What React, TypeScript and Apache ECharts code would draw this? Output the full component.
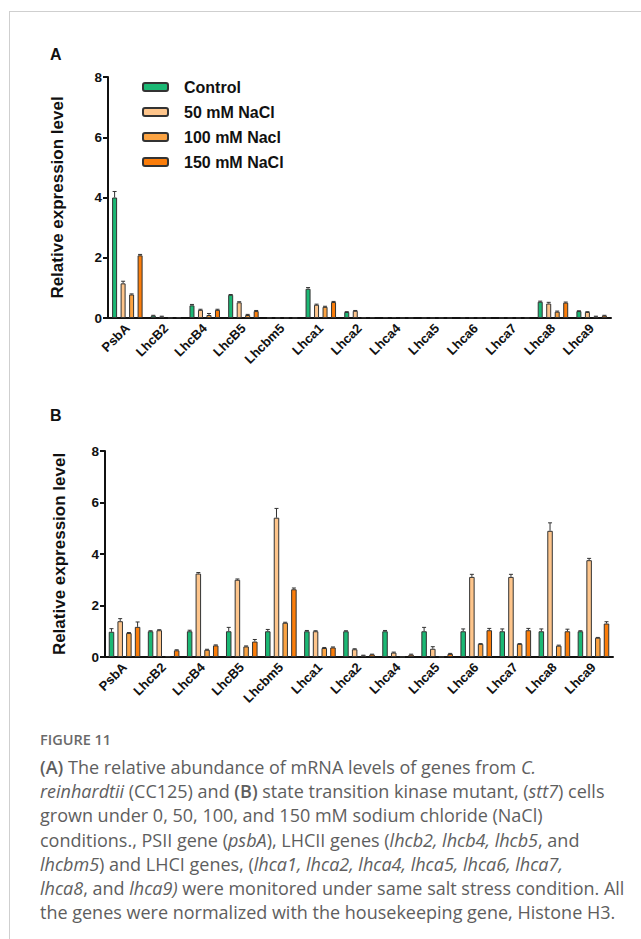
import React, { useEffect, useRef } from "react";
import * as echarts from "echarts";

const categories = ["PsbA", "LhcB2", "LhcB4", "LhcB5", "Lhcbm5", "Lhca1", "Lhca2", "Lhca4", "Lhca5", "Lhca6", "Lhca7", "Lhca8", "Lhca9"];
const seriesNames = ["Control", "50 mM NaCl", "100 mM Nacl", "150 mM NaCl"];
const yTicks = [0, 2, 4, 6, 8];

// Panel A (CC125)
const aControl = [4.0, 0.08, 0.42, 0.77, 0.01, 0.97, 0.2, 0.02, 0.005, 0.01, 0.005, 0.54, 0.23];
const a50 = [1.15, 0.05, 0.27, 0.52, 0.005, 0.44, 0.24, 0.03, 0.005, 0.01, 0.005, 0.48, 0.2];
const a100 = [0.78, 0.01, 0.1, 0.1, 0.005, 0.37, 0.02, 0.005, 0.005, 0.005, 0.005, 0.21, 0.05];
const a150 = [2.08, 0.02, 0.27, 0.23, 0.005, 0.53, 0.02, 0.005, 0.005, 0.005, 0.005, 0.51, 0.08];
const aControlErr = [0.2, 0.01, 0.03, 0.01, 0, 0.04, 0.01, 0, 0, 0, 0, 0.02, 0.01];
const a50Err = [0.07, 0.01, 0.02, 0.02, 0, 0.02, 0.01, 0, 0, 0, 0, 0.04, 0.01];
const a100Err = [0.02, 0, 0.05, 0.02, 0, 0.02, 0, 0, 0, 0, 0, 0.02, 0.01];
const a150Err = [0.03, 0, 0.02, 0.02, 0, 0.02, 0, 0, 0, 0, 0, 0.02, 0.01];

// Panel B (stt7)
const bControl = [0.98, 1.0, 1.0, 1.0, 1.0, 1.0, 1.0, 1.0, 1.0, 1.0, 1.0, 1.0, 1.0];
const b50 = [1.39, 1.04, 3.24, 3.0, 5.41, 1.0, 0.3, 0.17, 0.32, 3.11, 3.11, 4.9, 3.76];
const b100 = [0.93, 0.03, 0.28, 0.41, 1.33, 0.35, 0.06, 0.01, 0.01, 0.51, 0.51, 0.44, 0.75];
const b150 = [1.17, 0.26, 0.45, 0.6, 2.63, 0.37, 0.1, 0.09, 0.12, 1.04, 1.04, 1.0, 1.3];
const bControlErr = [0.12, 0.02, 0.04, 0.15, 0.07, 0.03, 0.02, 0.03, 0.15, 0.09, 0.09, 0.09, 0.02];
const b50Err = [0.1, 0.02, 0.04, 0.03, 0.36, 0.02, 0.02, 0.02, 0.08, 0.1, 0.1, 0.31, 0.07];
const b100Err = [0.02, 0, 0.02, 0.02, 0.02, 0.02, 0.01, 0, 0, 0.01, 0.01, 0.02, 0.01];
const b150Err = [0.19, 0.02, 0.02, 0.08, 0.05, 0.02, 0.01, 0.02, 0.02, 0.07, 0.07, 0.08, 0.07];

const colors = ["#1bb874", "#fec58b", "#fba342", "#fb7d0a"];
const FONT = "Arial, 'Liberation Sans', sans-serif";

export default function App() {
  const ref = useRef<HTMLDivElement>(null);

  useEffect(() => {
    document.body.style.margin = "0";
    if (!ref.current) return;
    const chart = echarts.init(ref.current, undefined, { renderer: "svg" });

    const panels = [
      { vals: [aControl, a50, a100, a150], errs: [aControlErr, a50Err, a100Err, a150Err], barWidth: 5, gap: 3.5, nameGap: 42 },
      { vals: [bControl, b50, b100, b150], errs: [bControlErr, b50Err, b100Err, b150Err], barWidth: 5.5, gap: 3.2, nameGap: 37 },
    ];

    const xAxis: any[] = [];
    const yAxis: any[] = [];
    const grid = [
      { left: 108, top: 77, width: 503, height: 241 },
      { left: 105, top: 451, width: 508, height: 206 },
    ];
    const series: any[] = [];

    panels.forEach((p, gi) => {
      xAxis.push({
        type: "category",
        gridIndex: gi,
        data: categories,
        axisLine: { lineStyle: { color: "#111", width: 2 } },
        axisTick: { alignWithLabel: true, length: 7, lineStyle: { color: "#111", width: 2 } },
        axisLabel: { rotate: 45, interval: 0, color: "#111", fontWeight: "bold", fontSize: 13, fontFamily: FONT, margin: 8 },
      });
      yAxis.push({
        type: "value",
        gridIndex: gi,
        min: yTicks[0],
        max: yTicks[yTicks.length - 1],
        interval: 2,
        name: "Relative expression level",
        nameLocation: "middle",
        nameGap: p.nameGap,
        nameTextStyle: { color: "#111", fontWeight: "bold", fontSize: 17, fontFamily: FONT },
        axisLine: { show: true, lineStyle: { color: "#111", width: 2 } },
        axisTick: { show: true, length: 5, lineStyle: { color: "#111", width: 2 } },
        axisLabel: { color: "#111", fontWeight: "bold", fontSize: 13.5, fontFamily: FONT, margin: 6 },
        splitLine: { show: false },
      });
      p.vals.forEach((v, k) => {
        series.push({
          type: "bar",
          name: seriesNames[k],
          xAxisIndex: gi,
          yAxisIndex: gi,
          data: v,
          barWidth: p.barWidth,
          barGap: `${(p.gap / p.barWidth) * 100}%`,
          itemStyle: { color: colors[k], borderColor: "#333", borderWidth: 1 },
          z: 2,
        });
      });
      p.vals.forEach((v, k) => {
        const step = p.barWidth + p.gap;
        const offset = (k - 1.5) * step;
        series.push({
          type: "custom",
          name: `err-${gi}-${k}`,
          xAxisIndex: gi,
          yAxisIndex: gi,
          z: 3,
          data: v.map((val, i) => [i, val, p.errs[k][i]]),
          encode: { x: 0, y: 1 },
          renderItem: (params: any, api: any) => {
            const e = api.value(2);
            if (!e || e <= 0) return { type: "group", children: [] };
            const base = api.coord([api.value(0), api.value(1)]);
            const top = api.coord([api.value(0), api.value(1) + e]);
            const x = base[0] + offset;
            const style = { stroke: "#333", lineWidth: 1 };
            return {
              type: "group",
              children: [
                { type: "line", shape: { x1: x, y1: base[1], x2: x, y2: top[1] }, style },
                { type: "line", shape: { x1: x - 2, y1: top[1], x2: x + 2, y2: top[1] }, style },
              ],
            };
          },
        });
      });
    });

    chart.setOption({
      animation: false,
      grid,
      xAxis,
      yAxis,
      series,
      legend: {
        data: seriesNames,
        orient: "vertical",
        left: 142,
        top: 78,
        padding: 0,
        itemWidth: 25,
        itemHeight: 8,
        itemGap: 7,
        textStyle: { color: "#111", fontWeight: "bold", fontSize: 16, lineHeight: 18, fontFamily: FONT, padding: [0, 0, 0, 11] },
      },
      graphic: [
        { type: "text", left: 50, top: 46, style: { text: "A", font: `bold 16px ${FONT}`, fill: "#111" } },
        { type: "text", left: 50, top: 407, style: { text: "B", font: `bold 16px ${FONT}`, fill: "#111" } },
      ],
    });

    return () => chart.dispose();
  }, []);

  const capStyle: React.CSSProperties = {
    position: "absolute",
    left: 40,
    top: 755,
    width: 600,
    fontFamily: "'Open Sans', sans-serif",
    fontSize: 18,
    lineHeight: "24.2px",
    color: "#5e5e5e",
    whiteSpace: "nowrap",
  };

  return (
    <div style={{ position: "relative", width: 641, height: 939, background: "#fff", overflow: "hidden" }}>
      <div style={{ position: "absolute", left: 9, top: 11, width: 632, height: 1, background: "#cfcfcf" }} />
      <div style={{ position: "absolute", left: 9, top: 11, width: 1, height: 928, background: "#cfcfcf" }} />
      <div ref={ref} style={{ position: "absolute", left: 0, top: 0, width: 641, height: 720 }} />
      <div style={{ position: "absolute", left: 40, top: 730, fontFamily: "'Open Sans', sans-serif", fontSize: 14.5, fontWeight: 600, color: "#6a6a6a", lineHeight: "20px" }}>
        FIGURE 11
      </div>
      <div style={capStyle}>
        <b style={{ fontWeight: 600 }}>(A)</b> The relative abundance of mRNA levels of genes from <i>C.</i>
        <br />
        <i>reinhardtii</i> (CC125) and <b style={{ fontWeight: 600 }}>(B)</b> state transition kinase mutant, (<i>stt7</i>) cells
        <br />
        grown under 0, 50, 100, and 150 mM sodium chloride (NaCl)
        <br />
        conditions., PSII gene (<i>psbA</i>), LHCII genes (<i>lhcb2, lhcb4, lhcb5</i>, and
        <br />
        <i>lhcbm5</i>) and LHCI genes, (<i>lhca1, lhca2, lhca4, lhca5, lhca6, lhca7,</i>
        <br />
        <i>lhca8</i>, and <i>lhca9)</i> were monitored under same salt stress condition. All
        <br />
        the genes were normalized with the housekeeping gene, Histone H3.
      </div>
    </div>
  );
}
